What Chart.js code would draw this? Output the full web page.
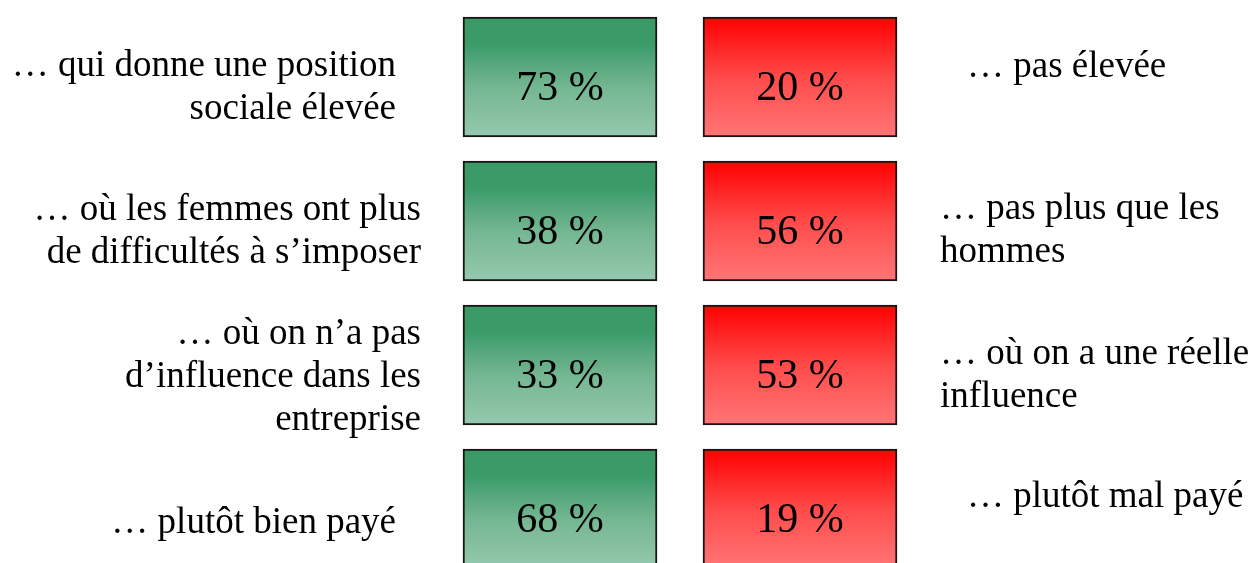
<!DOCTYPE html>
<html>
<head>
<meta charset="utf-8">
<script src="https://cdn.jsdelivr.net/npm/chart.js@4/dist/chart.umd.min.js"></script>
<style>
html,body{margin:0;padding:0;background:#fff;}
#c{display:block;}
</style>
</head>
<body>
<canvas id="c" width="1256" height="563"></canvas>
<script>
// ---- data ----
const rowIndex = [0, 1, 2, 3];
const leftLabels = [
  ["… qui donne une position", "sociale élevée"],
  ["… où les femmes ont plus", "de difficultés à s’imposer"],
  ["… où on n’a pas", "d’influence dans les", "entreprise"],
  ["… plutôt bien payé"]
];
const rightLabels = [
  ["… pas élevée"],
  ["… pas plus que les", "hommes"],
  ["… où on a une réelle", "influence"],
  ["… plutôt mal payé"]
];
const greenValues = [73, 38, 33, 68];
const redValues = [20, 56, 53, 19];

// ---- styling/layout ----
const FONT = "'Liberation Serif', 'Times New Roman', serif";
const BOX_H = 120;
const LINE_H = 43;
// per-row label placement: [anchor gap from box, first baseline offset from box centre]
const leftPlace = [[67, -1], [42, -1], [42, -21], [67, 24]];
const rightPlace = [[70, 0], [43, -2], [43, -1], [70, -2]];

function makeGradient(ctx, isGreen) {
  const c = ctx.chart;
  if (!c.chartArea || ctx.type !== 'data') return isGreen ? '#5aad80' : '#ff4040';
  const yc = c.scales.y.getPixelForValue(ctx.raw.y);
  const g = c.ctx.createLinearGradient(0, yc - BOX_H / 2, 0, yc + BOX_H / 2);
  if (isGreen) {
    g.addColorStop(0, '#389966');
    g.addColorStop(0.22, '#3b9b69');
    g.addColorStop(0.6, '#76b793');
    g.addColorStop(1, '#95c9ae');
  } else {
    g.addColorStop(0, '#ff0000');
    g.addColorStop(0.5, '#ff4a4a');
    g.addColorStop(1, '#ff7676');
  }
  return g;
}

const textPlugin = {
  id: 'boxText',
  afterDatasetsDraw(chart) {
    const ctx = chart.ctx;
    ctx.save();
    ctx.fillStyle = '#000';
    // values inside boxes
    ctx.font = '42px ' + FONT;
    ctx.textAlign = 'center';
    ctx.textBaseline = 'alphabetic';
    [greenValues, redValues].forEach((vals, di) => {
      const meta = chart.getDatasetMeta(di);
      meta.data.forEach((el, i) => {
        const cx = (el.x + el.base) / 2;
        ctx.fillText(vals[i] + ' %', cx, el.y + 23);
      });
    });
    // side labels
    ctx.font = '37px ' + FONT;
    const gMeta = chart.getDatasetMeta(0);
    const rMeta = chart.getDatasetMeta(1);
    gMeta.data.forEach((el, i) => {
      const left = Math.min(el.x, el.base);
      ctx.textAlign = 'right';
      leftLabels[i].forEach((line, k) => {
        ctx.fillText(line, left - leftPlace[i][0], el.y + leftPlace[i][1] + k * LINE_H);
      });
    });
    rMeta.data.forEach((el, i) => {
      const right = Math.max(el.x, el.base);
      ctx.textAlign = 'left';
      rightLabels[i].forEach((line, k) => {
        ctx.fillText(line, right + rightPlace[i][0], el.y + rightPlace[i][1] + k * LINE_H);
      });
    });
    ctx.restore();
  }
};

new Chart(document.getElementById('c'), {
  type: 'bar',
  data: {
    datasets: [
      {
        label: 'oui',
        data: rowIndex.map(i => ({ y: i, x: [0, 1] })),
        backgroundColor: ctx => makeGradient(ctx, true),
        borderColor: '#151515',
        borderWidth: 2,
        borderSkipped: false,
        barThickness: BOX_H,
        grouped: false
      },
      {
        label: 'non',
        data: rowIndex.map(i => ({ y: i, x: [1.2371, 2.2371] })),
        backgroundColor: ctx => makeGradient(ctx, false),
        borderColor: '#151515',
        borderWidth: 2,
        borderSkipped: false,
        barThickness: BOX_H,
        grouped: false
      }
    ]
  },
  options: {
    indexAxis: 'y',
    responsive: false,
    animation: false,
    layout: { padding: 0 },
    plugins: { legend: { display: false }, tooltip: { enabled: false } },
    scales: {
      x: { type: 'linear', display: false, offset: false, min: -2.3866, max: 4.0876 },
      y: { type: 'linear', display: false, offset: false, reverse: true, min: -0.5347, max: 3.375 }
    }
  },
  plugins: [textPlugin]
});
</script>
</body>
</html>
